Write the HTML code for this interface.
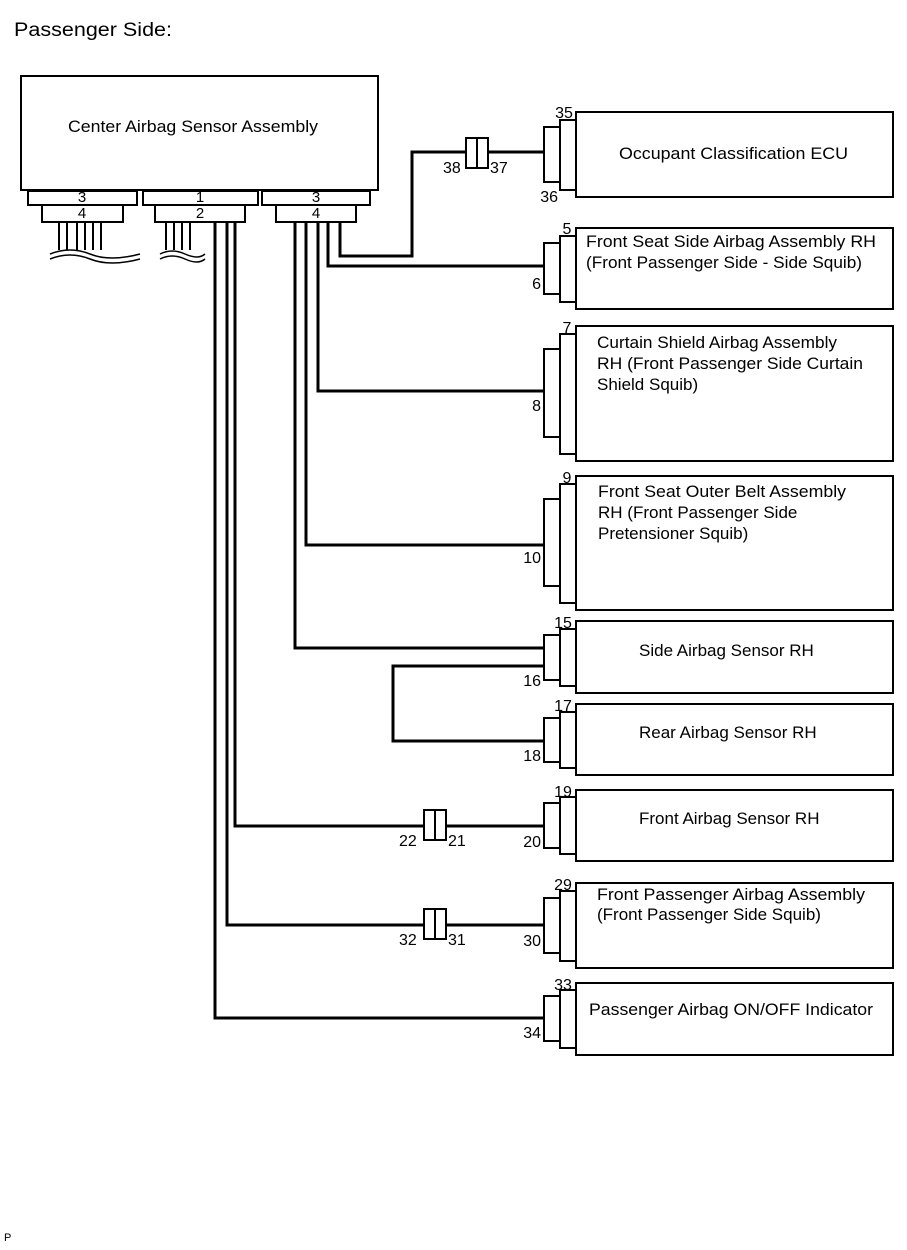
<!DOCTYPE html>
<html><head><meta charset="utf-8"><style>
body{margin:0;background:#fff}
svg{display:block}
text{font-family:"Liberation Sans",Arial,sans-serif;fill:#000}
</style></head><body>
<svg width="907" height="1250" viewBox="0 0 907 1250" xmlns="http://www.w3.org/2000/svg">
<text x="14" y="36" font-size="19" textLength="158" lengthAdjust="spacingAndGlyphs">Passenger Side:</text>
<text x="4" y="1241" font-size="11">P</text>
<g fill="none" stroke="#000" stroke-width="2">
<rect x="21" y="76" width="357" height="114"/>
<rect x="28" y="191" width="109" height="14"/>
<rect x="42" y="205" width="81" height="17"/>
<rect x="143" y="191" width="115" height="14"/>
<rect x="155" y="205" width="90" height="17"/>
<rect x="262" y="191" width="108" height="14"/>
<rect x="276" y="205" width="80" height="17"/>
<path d="M59 222V250M67 222V250M77 222V250M85 222V250M93 222V250M101 222V250"/>
<path d="M166 222V250M174 222V250M182 222V250M190 222V250"/>
<path d="M50 254q20-8 40 0t50 0" stroke-width="1.5"/>
<path d="M50 259q20-8 40 0t50 0" stroke-width="1.5"/>
<path d="M160 254q12-6 25 0t20 0" stroke-width="1.5"/>
<path d="M160 259q12-6 25 0t20 0" stroke-width="1.5"/>
</g>
<g fill="none" stroke="#000" stroke-width="3">
<path d="M340 222V256H412V152H544"/>
<path d="M328 222V266H544"/>
<path d="M318 222V391H544"/>
<path d="M306 222V545H544"/>
<path d="M295 222V648H544"/>
<path d="M544 666H393V741H544"/>
<path d="M235 222V826H544"/>
<path d="M227 222V925H544"/>
<path d="M215 222V1018H544"/>
</g>
<g fill="#fff" stroke="#000" stroke-width="2">
<rect x="466" y="138" width="11" height="30"/><rect x="477" y="138" width="11" height="30"/>
<rect x="424" y="810" width="11" height="30"/><rect x="435" y="810" width="11" height="30"/>
<rect x="424" y="909" width="11" height="30"/><rect x="435" y="909" width="11" height="30"/>
</g>
<g font-size="16">
<text x="443" y="173">38</text><text x="490" y="173">37</text>
<text x="399" y="846">22</text><text x="448" y="846">21</text>
<text x="399" y="945">32</text><text x="448" y="945">31</text>
</g>
<text x="68" y="132" font-size="17" textLength="250" lengthAdjust="spacingAndGlyphs">Center Airbag Sensor Assembly</text>
<g font-size="15" text-anchor="middle">
<text x="82" y="202">3</text><text x="82" y="218">4</text>
<text x="200" y="202">1</text><text x="200" y="218">2</text>
<text x="316" y="202">3</text><text x="316" y="218">4</text>
</g>
<g fill="#fff" stroke="#000" stroke-width="2">
<rect x="576" y="112" width="317" height="85"/><rect x="560" y="120" width="16" height="70"/><rect x="544" y="127" width="16" height="55"/>
<rect x="576" y="228" width="317" height="81"/><rect x="560" y="236" width="16" height="66"/><rect x="544" y="243" width="16" height="51"/>
<rect x="576" y="326" width="317" height="135"/><rect x="560" y="334" width="16" height="120"/><rect x="544" y="349" width="16" height="88"/>
<rect x="576" y="476" width="317" height="134"/><rect x="560" y="484" width="16" height="119"/><rect x="544" y="499" width="16" height="87"/>
<rect x="576" y="621" width="317" height="72"/><rect x="560" y="629" width="16" height="57"/><rect x="544" y="635" width="16" height="45"/>
<rect x="576" y="704" width="317" height="71"/><rect x="560" y="712" width="16" height="56"/><rect x="544" y="718" width="16" height="44"/>
<rect x="576" y="790" width="317" height="71"/><rect x="560" y="797" width="16" height="57"/><rect x="544" y="803" width="16" height="45"/>
<rect x="576" y="883" width="317" height="85"/><rect x="560" y="891" width="16" height="70"/><rect x="544" y="898" width="16" height="55"/>
<rect x="576" y="983" width="317" height="72"/><rect x="560" y="990" width="16" height="58"/><rect x="544" y="996" width="16" height="45"/>
</g>
<g font-size="16" text-anchor="middle">
<text x="564" y="118">35</text><text x="567" y="234">5</text><text x="567" y="333">7</text><text x="567" y="483">9</text>
<text x="563" y="628">15</text><text x="563" y="711">17</text><text x="563" y="797">19</text><text x="563" y="890">29</text><text x="563" y="990">33</text>
</g>
<g font-size="16" text-anchor="end">
<text x="558" y="202">36</text><text x="541" y="289">6</text><text x="541" y="411">8</text><text x="541" y="563">10</text>
<text x="541" y="686">16</text><text x="541" y="761">18</text><text x="541" y="847">20</text><text x="541" y="946">30</text><text x="541" y="1038">34</text>
</g>
<g font-size="17">
<text x="619" y="159" textLength="229" lengthAdjust="spacingAndGlyphs">Occupant Classification ECU</text>
<text x="586" y="247" textLength="290" lengthAdjust="spacingAndGlyphs">Front Seat Side Airbag Assembly RH</text>
<text x="586" y="268" textLength="276" lengthAdjust="spacingAndGlyphs">(Front Passenger Side - Side Squib)</text>
<text x="597" y="348" textLength="240" lengthAdjust="spacingAndGlyphs">Curtain Shield Airbag Assembly</text>
<text x="597" y="369" textLength="266" lengthAdjust="spacingAndGlyphs">RH (Front Passenger Side Curtain</text>
<text x="597" y="390">Shield Squib)</text>
<text x="598" y="497" textLength="248" lengthAdjust="spacingAndGlyphs">Front Seat Outer Belt Assembly</text>
<text x="598" y="518">RH (Front Passenger Side</text>
<text x="598" y="539">Pretensioner Squib)</text>
<text x="639" y="656">Side Airbag Sensor RH</text>
<text x="639" y="738">Rear Airbag Sensor RH</text>
<text x="639" y="824">Front Airbag Sensor RH</text>
<text x="597" y="900" textLength="268" lengthAdjust="spacingAndGlyphs">Front Passenger Airbag Assembly</text>
<text x="597" y="920">(Front Passenger Side Squib)</text>
<text x="589" y="1015" textLength="284" lengthAdjust="spacingAndGlyphs">Passenger Airbag ON/OFF Indicator</text>
</g>
</svg>
</body></html>
